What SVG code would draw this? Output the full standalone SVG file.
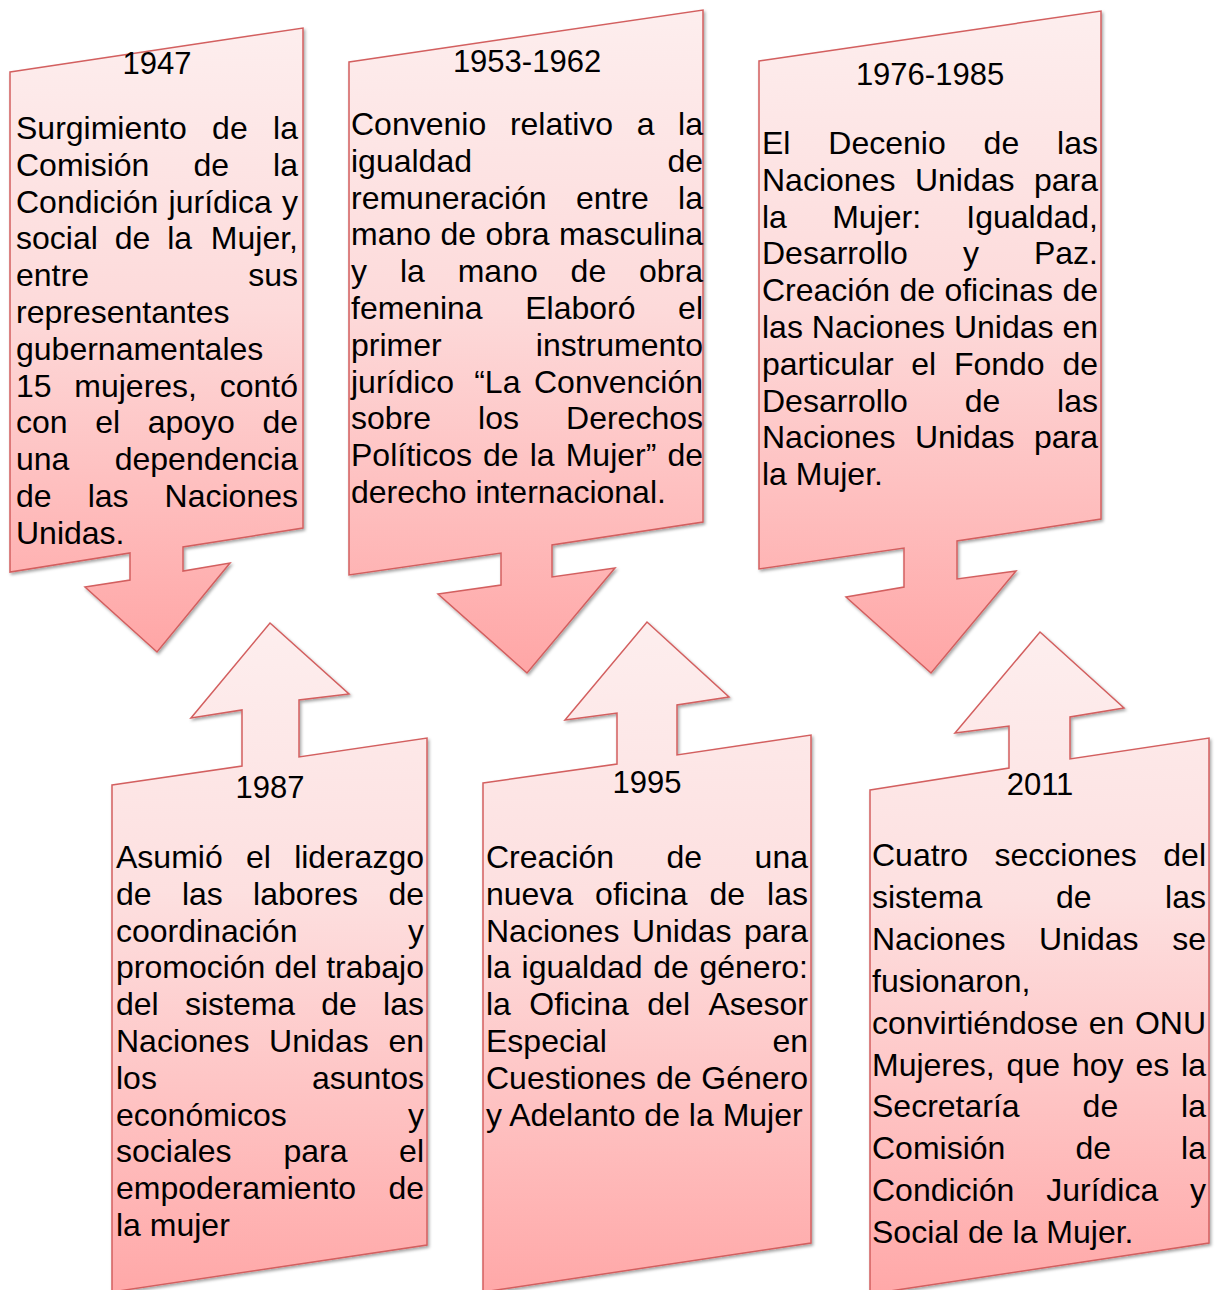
<svg xmlns="http://www.w3.org/2000/svg" width="1216" height="1290" viewBox="0 0 1216 1290">
<defs>
<linearGradient id="gd" x1="0" y1="0" x2="0" y2="1">
<stop offset="0" stop-color="#fdeeee"/>
<stop offset="0.45" stop-color="#fddada"/>
<stop offset="1" stop-color="#ffa6a6"/>
</linearGradient>
<linearGradient id="gu" x1="0" y1="0" x2="0" y2="1">
<stop offset="0" stop-color="#fdeeee"/>
<stop offset="0.4" stop-color="#fde0e0"/>
<stop offset="1" stop-color="#ffa8a8"/>
</linearGradient>
<filter id="sh" x="-10%" y="-10%" width="120%" height="120%">
<feDropShadow dx="1.5" dy="2" stdDeviation="1.6" flood-color="#000" flood-opacity="0.35"/>
</filter>
</defs>
<style>
.s{stroke:#d35f5f;stroke-width:1.5;stroke-linejoin:miter;filter:url(#sh)}
.d{fill:url(#gd)}
.u{fill:url(#gu)}
text{font-family:"Liberation Sans",Arial,sans-serif;font-size:32px;fill:#000}
.y{font-size:31px;text-anchor:middle}
.e{text-anchor:end}
</style>
<rect width="1216" height="1290" fill="#fff"/>
<g id="connectors"></g>

<g id="n1947">
<path class="s d" d="M10,72 L303,28 L303,528 L183,547 L183,571 L230,563 L157,652 L85,587 L130,580 L130,553 L10,572 Z"/>
<text class="y" x="157" y="74">1947</text>
<text y="139"><tspan x="16">Surgimiento</tspan><tspan x="212.1">de</tspan><tspan x="298" class="e">la</tspan></text>
<text y="175.8"><tspan x="16">Comisión</tspan><tspan x="193.4">de</tspan><tspan x="298" class="e">la</tspan></text>
<text y="212.6"><tspan x="16">Condición</tspan><tspan x="168.6">jurídica</tspan><tspan x="298" class="e">y</tspan></text>
<text y="249.4"><tspan x="16">social</tspan><tspan x="114.7">de</tspan><tspan x="167.2">la</tspan><tspan x="298" class="e">Mujer,</tspan></text>
<text y="286.2"><tspan x="16">entre</tspan><tspan x="298" class="e">sus</tspan></text>
<text y="323" x="16">representantes</text>
<text y="359.8" x="16">gubernamentales</text>
<text y="396.6"><tspan x="16">15</tspan><tspan x="74.3">mujeres,</tspan><tspan x="298" class="e">contó</tspan></text>
<text y="433.4"><tspan x="16">con</tspan><tspan x="95.2">el</tspan><tspan x="147.7">apoyo</tspan><tspan x="298" class="e">de</tspan></text>
<text y="470.2"><tspan x="16">una</tspan><tspan x="298" class="e">dependencia</tspan></text>
<text y="507"><tspan x="16">de</tspan><tspan x="87.7">las</tspan><tspan x="298" class="e">Naciones</tspan></text>
<text y="543.8" x="16">Unidas.</text>
</g>

<g id="n1953">
<path class="s d" d="M349,62 L703,10 L703,522 L552,545 L552,577 L615,568 L527,673 L438,594 L501,585 L501,553 L349,575 Z"/>
<text class="y" x="527" y="72">1953-1962</text>
<text y="135"><tspan x="351">Convenio</tspan><tspan x="509.9">relativo</tspan><tspan x="636.7">a</tspan><tspan x="703" class="e">la</tspan></text>
<text y="171.8"><tspan x="351">igualdad</tspan><tspan x="703" class="e">de</tspan></text>
<text y="208.6"><tspan x="351">remuneración</tspan><tspan x="575.9">entre</tspan><tspan x="703" class="e">la</tspan></text>
<text y="245.4"><tspan x="351">mano</tspan><tspan x="440.5">de</tspan><tspan x="485.6">obra</tspan><tspan x="703" class="e">masculina</tspan></text>
<text y="282.2"><tspan x="351">y</tspan><tspan x="399.9">la</tspan><tspan x="457.7">mano</tspan><tspan x="570.6">de</tspan><tspan x="703" class="e">obra</tspan></text>
<text y="319"><tspan x="351">femenina</tspan><tspan x="525.2">Elaboró</tspan><tspan x="703" class="e">el</tspan></text>
<text y="355.8"><tspan x="351">primer</tspan><tspan x="703" class="e">instrumento</tspan></text>
<text y="392.6"><tspan x="351">jurídico</tspan><tspan x="474.2">“La</tspan><tspan x="703" class="e">Convención</tspan></text>
<text y="429.4"><tspan x="351">sobre</tspan><tspan x="478.1">los</tspan><tspan x="703" class="e">Derechos</tspan></text>
<text y="466.2"><tspan x="351">Políticos</tspan><tspan x="483">de</tspan><tspan x="529.7">la</tspan><tspan x="565.7">Mujer”</tspan><tspan x="703" class="e">de</tspan></text>
<text y="503" x="351">derecho internacional.</text>
</g>

<g id="n1976">
<path class="s d" d="M759,61 L1101,11 L1101,519 L957,541 L957,579 L1016,571 L931,673 L846,597 L904,587 L904,548 L759,569 Z"/>
<text class="y" x="930" y="85">1976-1985</text>
<text y="154"><tspan x="762">El</tspan><tspan x="828.3">Decenio</tspan><tspan x="983.6">de</tspan><tspan x="1098" class="e">las</tspan></text>
<text y="190.8"><tspan x="762">Naciones</tspan><tspan x="914.9">Unidas</tspan><tspan x="1098" class="e">para</tspan></text>
<text y="227.6"><tspan x="762">la</tspan><tspan x="832.2">Mujer:</tspan><tspan x="1098" class="e">Igualdad,</tspan></text>
<text y="264.4"><tspan x="762">Desarrollo</tspan><tspan x="962.9">y</tspan><tspan x="1098" class="e">Paz.</tspan></text>
<text y="301.2"><tspan x="762">Creación</tspan><tspan x="899.4">de</tspan><tspan x="944.4">oficinas</tspan><tspan x="1098" class="e">de</tspan></text>
<text y="338"><tspan x="762">las</tspan><tspan x="811.7">Naciones</tspan><tspan x="953.9">Unidas</tspan><tspan x="1098" class="e">en</tspan></text>
<text y="374.8"><tspan x="762">particular</tspan><tspan x="911.3">el</tspan><tspan x="953.9">Fondo</tspan><tspan x="1098" class="e">de</tspan></text>
<text y="411.6"><tspan x="762">Desarrollo</tspan><tspan x="964.7">de</tspan><tspan x="1098" class="e">las</tspan></text>
<text y="448.4"><tspan x="762">Naciones</tspan><tspan x="914.9">Unidas</tspan><tspan x="1098" class="e">para</tspan></text>
<text y="485.2" x="762">la Mujer.</text>
</g>

<g id="n1987">
<path class="s u" d="M112,785 L242,766 L242,710 L191,718 L270,623 L349,694 L299,700 L299,757 L427,738 L427,1245 L112,1292 Z"/>
<text class="y" x="270" y="798">1987</text>
<text y="868"><tspan x="116">Asumió</tspan><tspan x="246">el</tspan><tspan x="424" class="e">liderazgo</tspan></text>
<text y="904.8"><tspan x="116">de</tspan><tspan x="181.9">las</tspan><tspan x="253.1">labores</tspan><tspan x="424" class="e">de</tspan></text>
<text y="941.6"><tspan x="116">coordinación</tspan><tspan x="424" class="e">y</tspan></text>
<text y="978.4"><tspan x="116">promoción</tspan><tspan x="274.5">del</tspan><tspan x="424" class="e">trabajo</tspan></text>
<text y="1015.2"><tspan x="116">del</tspan><tspan x="184.9">sistema</tspan><tspan x="321.3">de</tspan><tspan x="424" class="e">las</tspan></text>
<text y="1052"><tspan x="116">Naciones</tspan><tspan x="269.1">Unidas</tspan><tspan x="424" class="e">en</tspan></text>
<text y="1088.8"><tspan x="116">los</tspan><tspan x="424" class="e">asuntos</tspan></text>
<text y="1125.6"><tspan x="116">económicos</tspan><tspan x="424" class="e">y</tspan></text>
<text y="1162.4"><tspan x="116">sociales</tspan><tspan x="283.4">para</tspan><tspan x="424" class="e">el</tspan></text>
<text y="1199.2"><tspan x="116">empoderamiento</tspan><tspan x="424" class="e">de</tspan></text>
<text y="1236" x="116">la mujer</text>
</g>

<g id="n1995">
<path class="s u" d="M483,783 L617,764 L617,713 L565,720 L647,622 L729,697 L677,705 L677,755 L811,735 L811,1243 L483,1292 Z"/>
<text class="y" x="647" y="793">1995</text>
<text y="868"><tspan x="486">Creación</tspan><tspan x="666.5">de</tspan><tspan x="808" class="e">una</tspan></text>
<text y="904.8"><tspan x="486">nueva</tspan><tspan x="595.1">oficina</tspan><tspan x="709.5">de</tspan><tspan x="808" class="e">las</tspan></text>
<text y="941.6"><tspan x="486">Naciones</tspan><tspan x="631.9">Unidas</tspan><tspan x="808" class="e">para</tspan></text>
<text y="978.4"><tspan x="486">la</tspan><tspan x="521.6">igualdad</tspan><tspan x="653.3">de</tspan><tspan x="808" class="e">género:</tspan></text>
<text y="1015.2"><tspan x="486">la</tspan><tspan x="529.3">Oficina</tspan><tspan x="647.3">del</tspan><tspan x="808" class="e">Asesor</tspan></text>
<text y="1052"><tspan x="486">Especial</tspan><tspan x="808" class="e">en</tspan></text>
<text y="1088.8"><tspan x="486">Cuestiones</tspan><tspan x="655.9">de</tspan><tspan x="808" class="e">Género</tspan></text>
<text y="1125.6" x="486">y Adelanto de la Mujer</text>
</g>

<g id="n2011">
<path class="s u" d="M870,790 L1009,768 L1009,726 L955,733 L1040,632 L1124,708 L1070,717 L1070,759 L1209,738 L1209,1243 L870,1294 Z"/>
<text class="y" x="1040" y="795">2011</text>
<text y="866"><tspan x="872">Cuatro</tspan><tspan x="994.5">secciones</tspan><tspan x="1206" class="e">del</tspan></text>
<text y="907.9"><tspan x="872">sistema</tspan><tspan x="1055.9">de</tspan><tspan x="1206" class="e">las</tspan></text>
<text y="949.8"><tspan x="872">Naciones</tspan><tspan x="1039">Unidas</tspan><tspan x="1206" class="e">se</tspan></text>
<text y="991.7" x="872">fusionaron,</text>
<text y="1033.6"><tspan x="872">convirtiéndose</tspan><tspan x="1088.8">en</tspan><tspan x="1206" class="e">ONU</tspan></text>
<text y="1075.5"><tspan x="872">Mujeres,</tspan><tspan x="1006.6">que</tspan><tspan x="1071.9">hoy</tspan><tspan x="1135.4">es</tspan><tspan x="1206" class="e">la</tspan></text>
<text y="1117.4"><tspan x="872">Secretaría</tspan><tspan x="1082.6">de</tspan><tspan x="1206" class="e">la</tspan></text>
<text y="1159.3"><tspan x="872">Comisión</tspan><tspan x="1075.4">de</tspan><tspan x="1206" class="e">la</tspan></text>
<text y="1201.2"><tspan x="872">Condición</tspan><tspan x="1046.2">Jurídica</tspan><tspan x="1206" class="e">y</tspan></text>
<text y="1243.1" x="872">Social de la Mujer.</text>
</g>
</svg>
